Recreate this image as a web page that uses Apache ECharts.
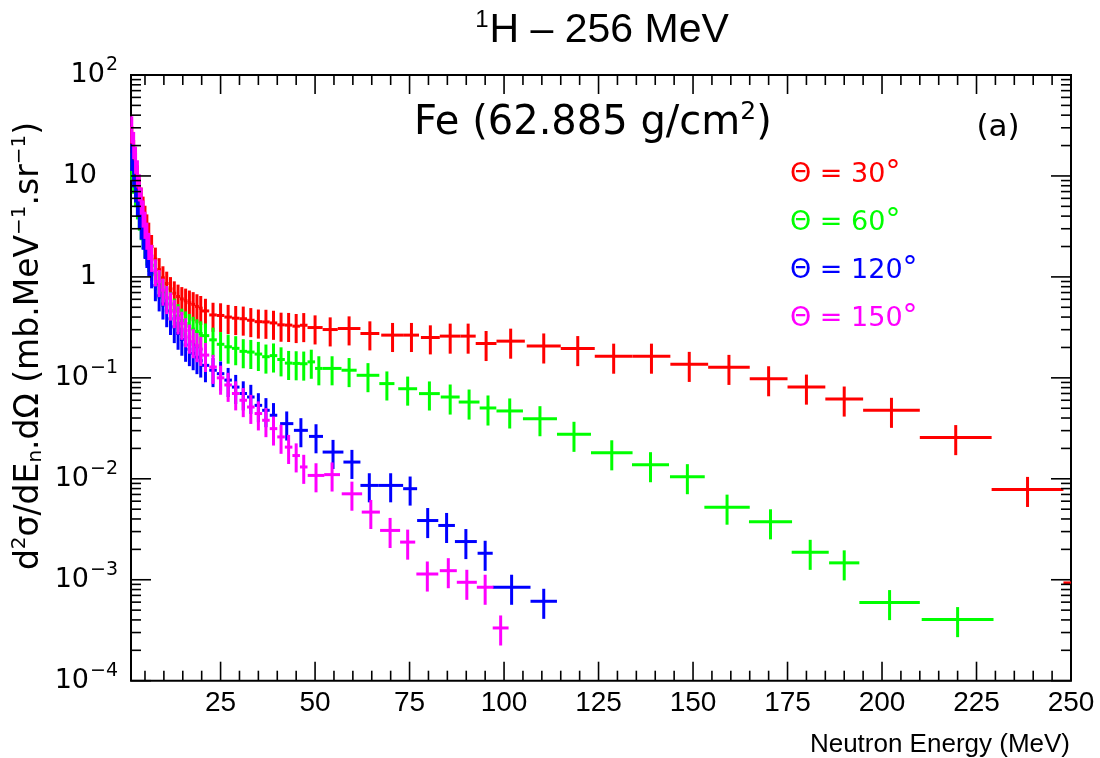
<!DOCTYPE html>
<html>
<head>
<meta charset="utf-8">
<script src="https://cdn.jsdelivr.net/npm/echarts@6/dist/echarts.min.js"></script>
<style>
  html, body { margin: 0; padding: 0; background: #fff; }
  #chart { width: 1100px; height: 758px; }
</style>
</head>
<body>
<div id="chart"></div>
<script>
// Neutron double-differential yields, 256 MeV protons on a thick Fe target.
// Each row: [neutron energy (MeV), bin width (MeV), d2sigma/dEn dOmega (mb/MeV/sr), relative error]
const theta30 = [
  [1.5,0.5,24,0.3],[2.0,0.5,17.5,0.3],[2.5,0.5,13,0.3],[3.0,0.5,9.8,0.3],[3.5,0.5,7.5,0.3],
  [4.0,0.5,5.9,0.3],[4.5,0.5,4.8,0.3],[5.0,0.5,3.9,0.3],[5.5,0.5,3.2,0.3],[6.0,0.5,2.65,0.3],
  [6.75,1,2.0,0.3],[7.75,1,1.5,0.3],[8.75,1,1.18,0.3],[9.75,1,0.98,0.3],[10.75,1,0.86,0.31],
  [11.75,1,0.76,0.31],[12.75,1,0.69,0.31],[13.75,1,0.64,0.31],[14.75,1,0.605,0.31],[15.75,1,0.58,0.32],
  [16.75,1,0.555,0.32],[17.75,1,0.535,0.32],[18.75,1,0.51,0.32],[19.75,1,0.49,0.32],
  [21,2,0.46,0.32],[23,2,0.42,0.32],[25,2,0.415,0.32],[27,2,0.4,0.32],[29,2,0.39,0.32],
  [31,2,0.385,0.32],[33,2,0.372,0.32],[35,2,0.36,0.32],[37,2,0.358,0.32],[39,2,0.35,0.32],
  [41,2,0.335,0.32],[43,2,0.333,0.32],[45,2,0.325,0.32],[47,2,0.332,0.32],
  [50,4,0.315,0.32],[54,4,0.301,0.32],[59,6,0.308,0.32],[64.5,5,0.275,0.32],[70.5,6,0.265,0.32],
  [75.5,4,0.265,0.32],[80.5,5,0.251,0.32],[85.75,5.5,0.259,0.33],[90.5,4,0.259,0.33],[95.25,5.5,0.219,0.33],
  [101.75,7.5,0.231,0.33],[110.5,9,0.207,0.33],[119.5,9,0.195,0.33],[129,10,0.164,0.33],[139,10,0.164,0.33],
  [149,10,0.136,0.33],[159.5,11,0.127,0.33],[170,10,0.098,0.33],[180,10,0.081,0.33],[190,10,0.0617,0.33],
  [202.5,15,0.0477,0.33],[219.5,19,0.0256,0.33],[238.5,19,0.00785,0.33],[262,28,0.00093,0.33]
];
const theta60 = [
  [1.5,0.5,13,0.3],[2.0,0.5,9.5,0.3],[2.5,0.5,7.0,0.3],[3.0,0.5,5.3,0.3],[3.5,0.5,4.1,0.3],
  [4.0,0.5,3.3,0.3],[4.5,0.5,2.7,0.3],[5.0,0.5,2.2,0.3],[5.5,0.5,1.85,0.3],[6.0,0.5,1.6,0.3],
  [6.75,1,1.3,0.3],[7.75,1,1.05,0.3],[8.75,1,0.86,0.3],[9.75,1,0.72,0.3],[10.75,1,0.62,0.31],
  [11.75,1,0.54,0.31],[12.75,1,0.465,0.31],[13.75,1,0.41,0.31],[14.75,1,0.37,0.31],[15.75,1,0.345,0.32],
  [16.75,1,0.325,0.32],[17.75,1,0.305,0.32],[18.75,1,0.288,0.32],[19.75,1,0.275,0.32],
  [21,2,0.262,0.32],[23,2,0.238,0.32],[25,2,0.215,0.32],[27,2,0.203,0.32],[29,2,0.196,0.32],
  [31,2,0.183,0.32],[33,2,0.18,0.32],[35,2,0.172,0.32],[37,2,0.162,0.32],[39,2,0.166,0.32],
  [41,2,0.152,0.32],[43,2,0.14,0.32],[45,2,0.139,0.32],[47,2,0.138,0.32],[49,2,0.144,0.32],[51,2,0.124,0.32],
  [54.5,5,0.124,0.32],[59,4,0.119,0.32],[64,6,0.106,0.32],[69,4,0.0877,0.32],[74.5,5,0.078,0.32],
  [80.25,5.5,0.0698,0.32],[85.75,5,0.0646,0.33],[90.75,5.5,0.0576,0.33],[95.75,4.4,0.0503,0.33],
  [101.5,7,0.047,0.33],[109.5,9,0.0394,0.33],[118.5,9,0.0276,0.33],[128.5,11,0.0181,0.33],
  [138.75,9.8,0.0138,0.33],[148.5,9.2,0.0105,0.33],[159,12,0.00524,0.33],[170.5,11.4,0.00375,0.33],
  [181,9.8,0.00187,0.33],[190,8,0.00147,0.33],[202,16,0.000594,0.33],[220,19,0.000403,0.33]
];
const theta120 = [
  [1.5,0.5,16,0.3],[2.0,0.5,11,0.3],[2.5,0.5,7.8,0.3],[3.0,0.5,5.7,0.3],[3.5,0.5,4.3,0.3],
  [4.0,0.5,3.35,0.3],[4.5,0.5,2.65,0.3],[5.0,0.5,2.15,0.3],[5.5,0.5,1.75,0.3],[6.0,0.5,1.45,0.3],
  [6.75,1,1.1,0.3],[7.75,1,0.82,0.3],[8.75,1,0.65,0.3],[9.75,1,0.54,0.3],[10.75,1,0.46,0.31],
  [11.75,1,0.385,0.31],[12.75,1,0.32,0.31],[13.75,1,0.275,0.31],[14.75,1,0.24,0.31],[15.75,1,0.212,0.32],
  [16.75,1,0.192,0.32],[17.75,1,0.175,0.32],[18.75,1,0.16,0.32],[19.75,1,0.148,0.32],
  [21,2,0.133,0.32],[23,2,0.119,0.32],[25,2,0.11,0.32],[27,2,0.095,0.32],[29,2,0.081,0.32],
  [31,2,0.07,0.32],[33,2,0.0646,0.32],[35,2,0.0534,0.32],[37,2,0.0477,0.32],[39,2,0.0426,0.32],
  [42.5,3.5,0.0352,0.32],[46.25,3.7,0.0302,0.32],[50.25,3.7,0.0263,0.32],[54.75,5.5,0.0184,0.32],
  [59.75,4.5,0.01465,0.32],[64.35,4.7,0.0086,0.32],[70,6.6,0.0086,0.32],[75.15,3.7,0.00798,0.32],
  [79.8,5.6,0.00386,0.33],[84.8,4.4,0.00345,0.33],[89.9,5.8,0.00239,0.33],[95,4,0.00183,0.33],
  [102,10,0.000843,0.33],[110.5,7,0.000612,0.33]
];
const theta150 = [
  [1.5,0.5,30,0.3],[2.0,0.5,21,0.3],[2.5,0.5,15,0.3],[3.0,0.5,11,0.3],[3.5,0.5,8.0,0.3],
  [4.0,0.5,5.9,0.3],[4.5,0.5,4.4,0.3],[5.0,0.5,3.4,0.3],[5.5,0.5,2.65,0.3],[6.0,0.5,2.1,0.3],
  [6.75,1,1.6,0.3],[7.75,1,1.15,0.3],[8.75,1,0.9,0.3],[9.75,1,0.74,0.3],[10.75,1,0.62,0.31],
  [11.75,1,0.535,0.31],[12.75,1,0.45,0.31],[13.75,1,0.39,0.31],[14.75,1,0.345,0.31],[15.75,1,0.295,0.32],
  [16.75,1,0.255,0.32],[17.75,1,0.23,0.32],[18.75,1,0.21,0.32],[19.75,1,0.193,0.32],
  [21,2,0.168,0.32],[23,2,0.128,0.32],[25,2,0.1,0.32],[27,2,0.085,0.32],[29,2,0.07,0.32],
  [31,2,0.06,0.32],[33,2,0.0514,0.32],[35,2,0.0443,0.32],[37,2,0.038,0.32],[39,2,0.0314,0.32],
  [41,2,0.026,0.32],[43,2,0.0206,0.32],[45,2,0.017,0.32],[47,2,0.0131,0.32],
  [50.25,4.4,0.0108,0.32],[54.5,4.2,0.011,0.32],[59.75,5.4,0.0071,0.32],[64.75,4.8,0.00468,0.32],
  [69.85,5.3,0.00308,0.33],[74.5,4,0.00236,0.33],[79.7,5.8,0.00114,0.33],[85.25,4.5,0.00123,0.33],
  [90.15,5.3,0.000944,0.33],[95,4.4,0.000843,0.33],[99.1,4.2,0.000333,0.33]
];

// Emission angles (degrees) and their colours
const angles = ['30', '60', '120', '150'];
const angleColors = ['#ff0000', '#00ff00', '#0000ff', '#ff00ff'];

// Axis ranges and ticks
const energyMin = 1.3, energyMax = 250;
const yieldMin = 1e-4, yieldMax = 100;
const xMajorTicks = [25, 50, 75, 100, 125, 150, 175, 200, 225, 250];
const xMinorTicks = [5, 10, 15, 20, 30, 35, 40, 45, 55, 60, 65, 70, 80, 85, 90, 95,
  105, 110, 115, 120, 130, 135, 140, 145, 155, 160, 165, 170, 180, 185, 190, 195,
  205, 210, 215, 220, 230, 235, 240, 245];
const yDecades = [1e-4, 1e-3, 1e-2, 1e-1, 1, 10, 100];
const yMantissas = [2, 3, 4, 5, 6, 7, 8, 9];
// decade exponent -> label (base "10" with superscript exponent)
const yTickLabels = {
  '-4': '{b|10}{s|\u22124}',
  '-3': '{b|10}{s|\u22123}',
  '-2': '{b|10}{s|\u22122}',
  '-1': '{b|10}{s|\u22121}',
  '0': '{b|1}{e|}',
  '1': '{b|10}{e|}',
  '2': '{b|10}{s|2}'
};

// Tick marks on all four sides: [x, y, length, orientation(0 = vertical tick, 1 = horizontal tick)]
const tickRows = [];
xMajorTicks.forEach(v => tickRows.push([v, yieldMin, 19, 0]));
xMinorTicks.forEach(v => tickRows.push([v, yieldMin, 10, 0]));
yDecades.forEach(d => tickRows.push([energyMin, d, 20, 1]));
yDecades.slice(0, -1).forEach(d => yMantissas.forEach(m => tickRows.push([energyMin, m * d, 10, 1])));

function renderTick(params, api) {
  const cs = params.coordSys;
  const p = api.coord([api.value(0), api.value(1)]);
  const len = api.value(2);
  const st = { stroke: '#000', lineWidth: 1.6 };
  const bottom = cs.y + cs.height, right = cs.x + cs.width;
  if (api.value(3) === 0) {
    return { type: 'group', children: [
      { type: 'line', shape: { x1: p[0], y1: bottom, x2: p[0], y2: bottom - len }, style: st },
      { type: 'line', shape: { x1: p[0], y1: cs.y, x2: p[0], y2: cs.y + len }, style: st }
    ] };
  }
  return { type: 'group', children: [
    { type: 'line', shape: { x1: cs.x, y1: p[1], x2: cs.x + len, y2: p[1] }, style: st },
    { type: 'line', shape: { x1: right, y1: p[1], x2: right - len, y2: p[1] }, style: st }
  ] };
}

// Error cross: horizontal bar = energy bin, vertical bar = +/- error
function makeCrossRenderer(color) {
  return function (params, api) {
    const cs = params.coordSys;
    const e = api.value(0), w = api.value(1), v = api.value(2), r = api.value(3);
    const c = api.coord([e, v]);
    const l = api.coord([e - w / 2, v]);
    const rt = api.coord([e + w / 2, v]);
    const hi = api.coord([e, v * (1 + r)]);
    const lo = api.coord([e, v * (1 - r)]);
    const xl = Math.max(l[0], cs.x), xr = Math.min(rt[0], cs.x + cs.width);
    const st = { stroke: color, lineWidth: 3 };
    const children = [];
    if (xr > xl) children.push({ type: 'line', shape: { x1: xl, y1: c[1], x2: xr, y2: c[1] }, style: st });
    if (c[0] >= cs.x && c[0] <= cs.x + cs.width) {
      children.push({ type: 'line', shape: { x1: c[0], y1: Math.max(hi[1], cs.y), x2: c[0], y2: Math.min(lo[1], cs.y + cs.height) }, style: st });
    }
    return { type: 'group', children };
  };
}

const seriesData = [theta30, theta60, theta120, theta150];
const crossSeries = seriesData.map((rows, i) => ({
  type: 'custom',
  name: angles[i],
  coordinateSystem: 'cartesian2d',
  encode: { x: 0, y: 2 },
  data: rows,
  silent: true,
  renderItem: makeCrossRenderer(angleColors[i]),
  z: 3 + i
}));

const sansGeo = 'DejaVu Sans';
const sansHelv = 'Liberation Sans, Arial, sans-serif';

const legendTexts = angles.map((a, i) => ({
  type: 'text',
  x: 790,
  y: 175 + i * 48,
  style: {
    text: '{t|\u0398 = ' + a + '}{d|\u00b0}',
    rich: {
      t: { fontFamily: sansGeo, fontSize: 27, fill: angleColors[i], color: angleColors[i] },
      d: { fontFamily: sansGeo, fontSize: 30, fill: angleColors[i], color: angleColors[i], padding: [0, 0, 4, 0] }
    },
    align: 'left', textAlign: 'left',
    verticalAlign: 'middle', textVerticalAlign: 'middle'
  }
}));

const chart = echarts.init(document.getElementById('chart'), null, { renderer: 'canvas' });
chart.setOption({
  animation: false,
  backgroundColor: '#fff',
  grid: {
    left: 131, top: 75, width: 940, height: 605.7,
    show: true, borderColor: '#000', borderWidth: 2, backgroundColor: 'transparent',
    outerBoundsMode: 'none'
  },
  xAxis: {
    type: 'value',
    min: energyMin, max: energyMax,
    axisLine: { show: false },
    axisTick: { show: false },
    splitLine: { show: false },
    axisLabel: {
      customValues: xMajorTicks,
      formatter: v => String(v),
      color: '#000',
      fontFamily: sansHelv,
      fontSize: 28,
      margin: 9
    }
  },
  yAxis: {
    type: 'log',
    logBase: 10,
    min: yieldMin, max: yieldMax,
    axisLine: { show: false },
    axisTick: { show: false },
    splitLine: { show: false },
    axisLabel: {
      margin: 13,
      color: '#000',
      formatter: v => yTickLabels[String(Math.round(Math.log10(v)))] || '',
      rich: {
        b: { fontFamily: sansGeo, fontSize: 27, color: '#000' },
        s: { fontFamily: sansGeo, fontSize: 19, color: '#000', padding: [0, 0, 20, 1] },
        e: { width: 21 }
      }
    }
  },
  series: [
    ...crossSeries,
    {
      type: 'custom',
      name: 'ticks',
      coordinateSystem: 'cartesian2d',
      encode: { x: 0, y: 1 },
      data: tickRows,
      silent: true,
      renderItem: renderTick,
      z: 10
    }
  ],
  graphic: [
    {
      type: 'text', x: 602, y: 31,
      style: {
        text: '{s|1}{b|H \u2013 256 MeV}',
        rich: {
          b: { fontFamily: sansHelv, fontSize: 41, fill: '#000', color: '#000' },
          s: { fontFamily: sansHelv, fontSize: 24, fill: '#000', color: '#000', padding: [0, 1, 22, 0] }
        },
        align: 'center', textAlign: 'center',
        verticalAlign: 'middle', textVerticalAlign: 'middle'
      }
    },
    {
      type: 'text', x: 414, y: 124,
      style: {
        text: '{b|Fe (62.885 g/cm}{s|2}{b|)}',
        rich: {
          b: { fontFamily: sansGeo, fontSize: 40, fill: '#000', color: '#000' },
          s: { fontFamily: sansGeo, fontSize: 25, fill: '#000', color: '#000', padding: [0, 0, 24, 0] }
        },
        align: 'left', textAlign: 'left',
        verticalAlign: 'middle', textVerticalAlign: 'middle'
      }
    },
    {
      type: 'text', x: 998, y: 128,
      style: {
        text: '(a)', fill: '#000', fontFamily: sansGeo, fontSize: 31,
        align: 'center', textAlign: 'center',
        verticalAlign: 'middle', textVerticalAlign: 'middle'
      }
    },
    ...legendTexts,
    {
      type: 'text', x: 1070, y: 745,
      style: {
        text: 'Neutron Energy (MeV)', fill: '#000', fontFamily: sansHelv, fontSize: 26,
        align: 'right', textAlign: 'right',
        verticalAlign: 'middle', textVerticalAlign: 'middle'
      }
    },
    {
      type: 'text', x: 29, y: 346, rotation: Math.PI / 2,
      style: {
        text: '{b|d}{p|2}{b|\u03c3/dE}{n|n}{b|.d\u03a9 (mb.MeV}{p|\u22121}{b|.sr}{p|\u22121}{b|)}',
        rich: {
          b: { fontFamily: sansGeo, fontSize: 33, fill: '#000', color: '#000' },
          p: { fontFamily: sansGeo, fontSize: 20, fill: '#000', color: '#000', padding: [0, 0, 19, 0] },
          n: { fontFamily: sansGeo, fontSize: 20, fill: '#000', color: '#000', padding: [14, 0, 0, 0] }
        },
        align: 'center', textAlign: 'center',
        verticalAlign: 'middle', textVerticalAlign: 'middle'
      }
    }
  ]
});
</script>
</body>
</html>
